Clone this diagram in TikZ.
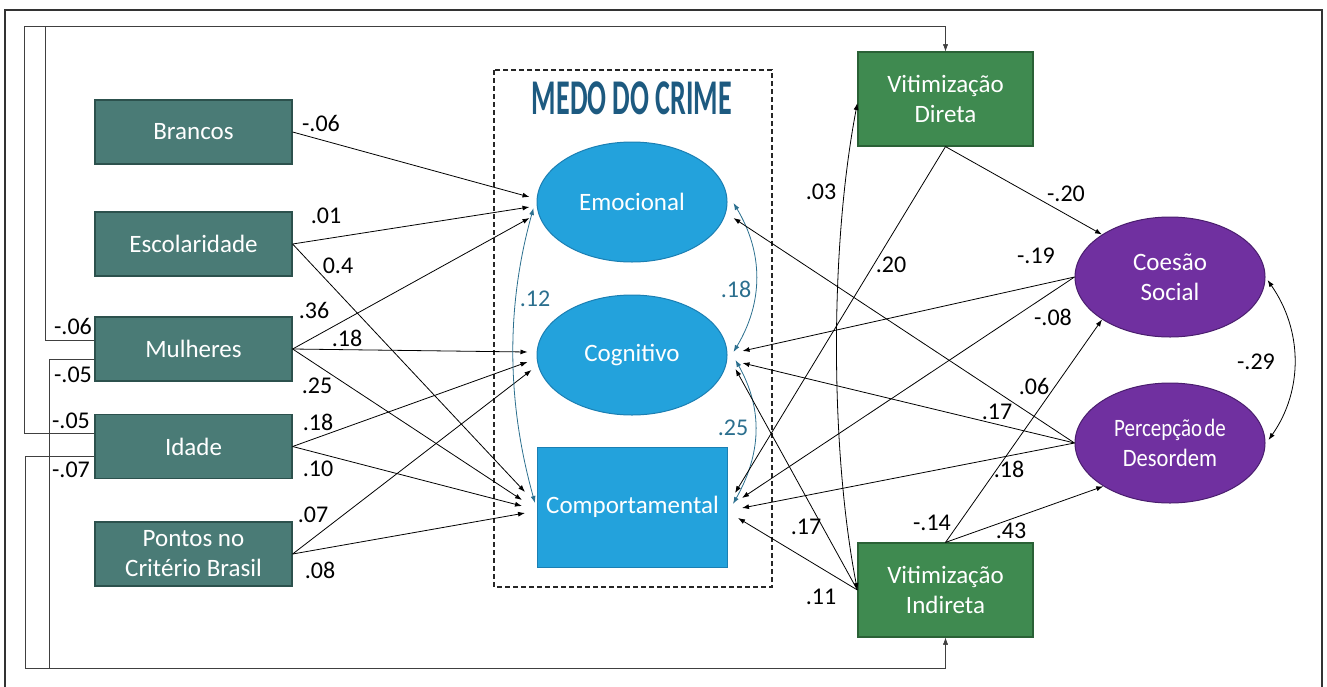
\documentclass[tikz,border=0pt]{standalone}
\usepackage{fontspec}
\setmainfont{Carlito}
\usetikzlibrary{shapes, arrows.meta, positioning}
\definecolor{tealbox}{HTML}{4A7B76}
\definecolor{tealline}{HTML}{2C514D}
\definecolor{medoblue}{HTML}{23A2DC}
\definecolor{medoline}{HTML}{1B7FB3}
\definecolor{vitgreen}{HTML}{3F8A50}
\definecolor{vitline}{HTML}{2A6136}
\definecolor{roxo}{HTML}{7030A0}
\definecolor{roxoline}{HTML}{4A1E6E}
\definecolor{titleblue}{HTML}{1D5A80}
\definecolor{corrblue}{HTML}{2B6F8E}
\tikzstyle{var} = [draw=tealline, fill=tealbox, rectangle, line width=1.2pt, minimum width=197pt, minimum height=64pt, text=white, font=\fontsize{25}{30}\selectfont, align=center]
\tikzstyle{vit} = [var, draw=vitline, fill=vitgreen, minimum width=175pt, minimum height=94pt]
\tikzstyle{fator} = [draw=medoline, fill=medoblue, ellipse, line width=1pt, minimum width=190pt, minimum height=120pt, inner sep=0pt, text=white, font=\fontsize{25}{30}\selectfont, align=center]
\tikzstyle{social} = [fator, draw=roxoline, fill=roxo]
\tikzstyle{coef} = [font=\fontsize{24}{26}\selectfont, inner sep=0pt]
\tikzstyle{corr} = [coef, text=corrblue]
\tikzstyle{seta} = [->, line width=0.8pt]
\tikzstyle{curva} = [<->, draw=corrblue, line width=0.8pt]
\tikzstyle{retorno} = [->, draw=black!75, line width=1pt]

\begin{document}
\begin{tikzpicture}[>={Latex[length=7pt,width=5pt]}, x=1pt, y=-1pt]
    \useasboundingbox (0,0) rectangle (1327,686);
    \draw[line width=1.5pt, draw=black!80] (5,690) -- (5,10) -- (1322,10) -- (1322,690);
    % medo do crime
    \draw[line width=1.5pt, draw=black!85, dash pattern=on 5pt off 3pt] (494,70) rectangle (772,587);
    \node[font=\bfseries\fontsize{50}{50}\selectfont, text=titleblue] (titulo) at (632,98) {\scalebox{0.56}[1]{MEDO DO CRIME}};
    % variaveis
    \node[var] (bra) at (193.5,132) {Brancos};
    \node[var] (esc) at (193.5,244) {Escolaridade};
    \node[var] (mul) at (193.5,349) {Mulheres};
    \node[var] (ida) at (193.5,446.5) {Idade};
    \node[var] (pon) at (193.5,554) {Pontos no\\Critério Brasil};
    \node[fator] (emo) at (632,202) {Emocional};
    \node[fator] (cog) at (632,355) {Cognitivo};
    \node[fator, rectangle] (com) at (632.5,507) {Comportamental};
    \node[vit] (vd) at (945.5,99) {Vitimização\\Direta};
    \node[vit] (vi) at (945.5,590) {Vitimização\\Indireta};
    \node[social] (coe) at (1170,277) {Coesão\\Social};
    \node[social] (per) at (1170,443) {\scalebox{0.84}[1]{Percepção\hspace{-3pt} de}\\\scalebox{0.9}[1]{Desordem}};
    % retorno
    \coordinate (c1) at (45,26);
    \coordinate (c2) at (24,26);
    \coordinate (c3) at (49,668);
    \coordinate (c4) at (25,668);
    \draw[retorno] ([yshift=9pt]mul.west) -| (c1) -| (vd.north);
    \draw[retorno] ([yshift=13pt]ida.west) -| (c2) -| (vd.north);
    \draw[retorno] ([yshift=-10pt]mul.west) -| (c3) -| (vi.south);
    \draw[retorno] ([yshift=-10pt]ida.west) -| (c4) -| (vi.south);
    % esquerda
    \draw[seta] (bra.east) -- ([xshift=-7pt,yshift=5pt]emo.west);
    \draw[seta] (esc.east) -- ([xshift=-7pt,yshift=-5pt]emo.west);
    \draw[seta] (esc.east) -- ([xshift=-12pt,yshift=15pt]com.west);
    \draw[seta] (mul.east) -- ([xshift=-7pt,yshift=-16pt]emo.west);
    \draw[seta] (mul.east) -- ([xshift=-9pt,yshift=3pt]cog.west);
    \draw[seta] (mul.east) -- ([xshift=-15pt,yshift=7pt]com.west);
    \draw[seta] (ida.east) -- ([xshift=-9pt,yshift=-7pt]cog.west);
    \draw[seta] (ida.east) -- ([xshift=-15pt,yshift=1pt]com.west);
    \draw[seta] (pon.east) -- ([xshift=-5pt,yshift=-15pt]cog.west);
    \draw[seta] (pon.east) -- ([xshift=-12pt,yshift=-6pt]com.west);
    % correlacoes
    \draw[curva] ([xshift=-3pt,yshift=-6pt]emo.west) .. controls +(-28,100) and +(-28,-100) .. ([xshift=-2pt,yshift=4pt]com.west);
    \draw[curva] ([xshift=6pt,yshift=-1pt]emo.east) .. controls +(30,50) and +(30,-50) .. ([xshift=6pt,yshift=3pt]cog.east);
    \draw[curva] ([xshift=8pt,yshift=-5pt]cog.east) .. controls +(28,50) and +(28,-50) .. ([xshift=5pt,yshift=3pt]com.east);
    \draw[<->, line width=0.8pt] ([yshift=-4pt]vd.west) .. controls +(-28,146) and +(-27,-140) .. (vi.west);
    \draw[<->, line width=0.8pt] ([xshift=2pt,yshift=-3pt]coe.east) .. controls +(35,50) and +(35,-50) .. ([xshift=3pt,yshift=3pt]per.east);
    % direita
    \draw[seta] (vd.south) -- (coe.148);
    \draw[seta] (vd.south) -- ([xshift=7pt,yshift=14pt]com.east);
    \draw[seta] (vi.west) -- ([xshift=8pt,yshift=-14pt]cog.east);
    \draw[seta] (vi.west) -- ([xshift=10pt,yshift=-11pt]com.east);
    \draw[seta] (vi.north) -- (coe.212);
    \draw[seta] (vi.north) -- (per.213);
    \draw[seta] (coe.west) -- ([xshift=15pt,yshift=4pt]cog.east);
    \draw[seta] (coe.west) -- ([xshift=14pt,yshift=9pt]com.east);
    \draw[seta] (per.west) -- ([xshift=6pt,yshift=-16pt]emo.east);
    \draw[seta] (per.west) -- ([xshift=15pt,yshift=-8pt]cog.east);
    \draw[seta] (per.west) -- ([xshift=14pt,yshift=-1pt]com.east);
    % coeficientes
    \node[coef] (k1) at (321,123) {-.06};
    \node[coef] (k2) at (326,216) {.01};
    \node[coef] (k3) at (338,266) {0.4};
    \node[coef] (k4) at (314,310) {.36};
    \node[coef] (k5) at (347,338) {.18};
    \node[coef] (k6) at (317,386) {.25};
    \node[coef] (k7) at (318,422) {.18};
    \node[coef] (k8) at (318,469) {.10};
    \node[coef] (k9) at (313,515) {.07};
    \node[coef] (k10) at (320,570) {.08};
    \node[coef] (k11) at (73,326) {-.06};
    \node[coef] (k12) at (73,375) {-.05};
    \node[coef] (k13) at (71,421) {-.05};
    \node[coef] (k14) at (71,470) {-.07};
    \node[corr] (k15) at (535,299) {.12};
    \node[corr] (k16) at (736,289) {.18};
    \node[corr] (k17) at (733,428) {.25};
    \node[coef] (k18) at (821,192) {.03};
    \node[coef] (k19) at (891,265) {.20};
    \node[coef] (k20) at (1066,194) {-.20};
    \node[coef] (k21) at (1036,256) {-.19};
    \node[coef] (k22) at (1053,317) {-.08};
    \node[coef] (k23) at (1034,386) {.06};
    \node[coef] (k24) at (997,412) {.17};
    \node[coef] (k25) at (1009,469) {.18};
    \node[coef] (k26) at (932,523) {-.14};
    \node[coef] (k27) at (1011,531) {.43};
    \node[coef] (k28) at (806,527) {.17};
    \node[coef] (k29) at (821,597) {.11};
    \node[coef] (k30) at (1256,362) {-.29};
\end{tikzpicture}
\end{document}
